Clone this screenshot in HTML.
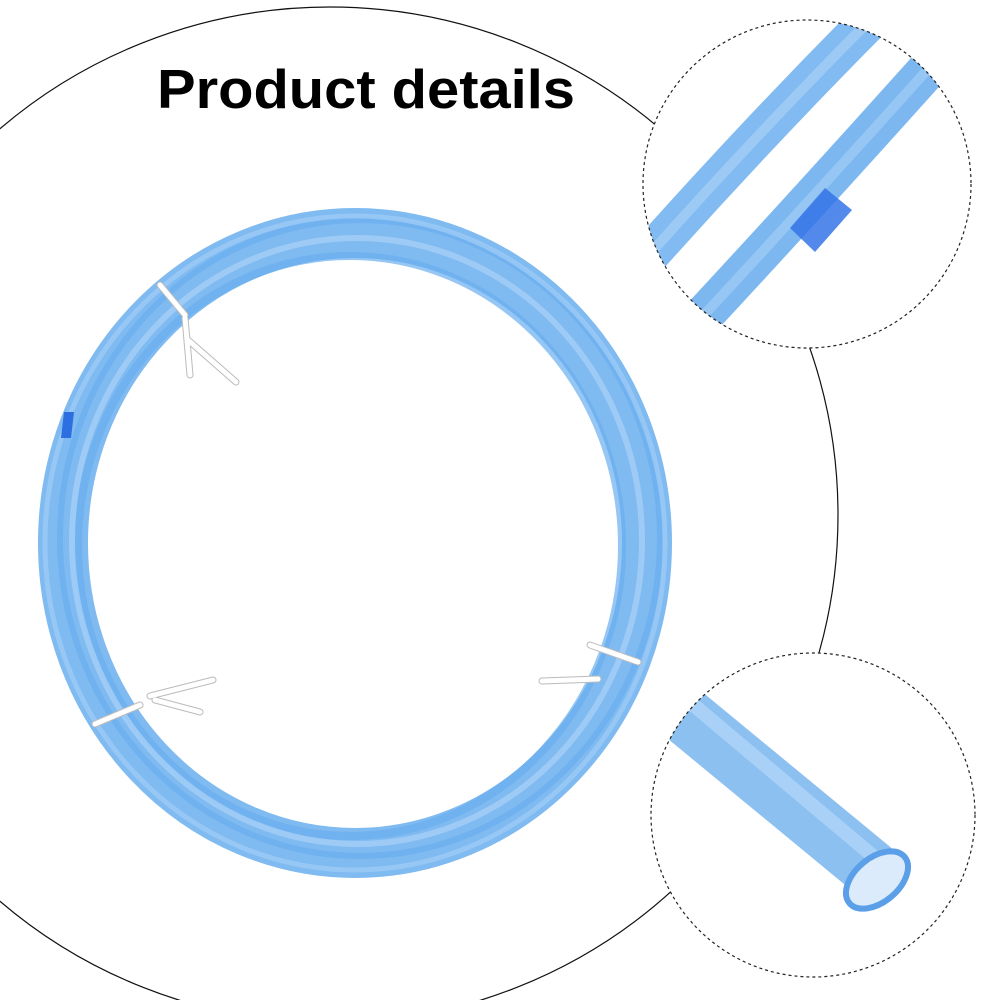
<!DOCTYPE html>
<html><head><meta charset="utf-8"><style>
html,body{margin:0;padding:0;background:#fff;width:1000px;height:1000px;overflow:hidden}
</style></head><body>
<svg width="1000" height="1000" viewBox="0 0 1000 1000" xmlns="http://www.w3.org/2000/svg">
<defs>
<clipPath id="c1"><circle cx="807" cy="184" r="164"/></clipPath>
<clipPath id="c2"><circle cx="813" cy="815" r="162"/></clipPath>
</defs>
<rect width="1000" height="1000" fill="#fff"/>
<circle cx="330" cy="515" r="508" fill="none" stroke="#111" stroke-width="1.2"/>
<text x="366" y="108" text-anchor="middle" font-family="Liberation Sans, sans-serif" font-weight="bold" font-size="55" fill="#000" textLength="418" lengthAdjust="spacingAndGlyphs">Product details</text>

<!-- coil -->
<g fill="none">
<ellipse cx="355" cy="543" rx="292" ry="310" stroke="#7fbaf1" stroke-width="50"/>
<ellipse cx="350" cy="546" rx="272" ry="290" stroke="#6aaeee" stroke-width="8" opacity="0.7"/>
<ellipse cx="357" cy="541" rx="285" ry="303" stroke="#a6d0f7" stroke-width="6" opacity="0.8"/>
<ellipse cx="360" cy="538" rx="300" ry="318" stroke="#6aaeee" stroke-width="6" opacity="0.7"/>
<ellipse cx="355" cy="543" rx="310" ry="327" stroke="#9ccbf6" stroke-width="5" opacity="0.8"/>
<path d="M64 412 L74 412 L71 438 L61 438Z" fill="#2d6fe0" stroke="none"/>
<g stroke="#bbb" stroke-width="7" stroke-linecap="round">
<path d="M160 285 L185 315 M185 318 L190 375 M188 340 L236 382"/>
<path d="M95 724 L140 705 M150 696 L213 680 M155 700 L200 712"/>
<path d="M590 645 L638 662 M542 681 L598 679"/>
</g>
<g stroke="#fff" stroke-width="5" stroke-linecap="round">
<path d="M160 285 L185 315 M185 318 L190 375 M188 340 L236 382"/>
<path d="M95 724 L140 705 M150 696 L213 680 M155 700 L200 712"/>
<path d="M590 645 L638 662 M542 681 L598 679"/>
</g>
</g>

<!-- top inset -->
<circle cx="807" cy="184" r="164" fill="#fff"/>
<g clip-path="url(#c1)">
<path d="M640 265 Q760 130 885 5" fill="none" stroke="#82bbf1" stroke-width="40"/>
<path d="M640 265 Q760 130 885 5" fill="none" stroke="#9ccaf5" stroke-width="10"/>
<path d="M690 330 Q820 190 945 50" fill="none" stroke="#7cb7ef" stroke-width="40"/>
<path d="M690 330 Q820 190 945 50" fill="none" stroke="#96c6f4" stroke-width="10"/>
<path d="M790 228 L825 188 L852 210 L815 252Z" fill="#3574e8" opacity="0.85"/>
</g>
<circle cx="807" cy="184" r="164" fill="none" stroke="#222" stroke-width="1.2" stroke-dasharray="3,3"/>

<!-- bottom inset -->
<circle cx="813" cy="815" r="162" fill="#fff"/>
<g clip-path="url(#c2)">
<path d="M630 670 L875 872" stroke="#8cc0f0" stroke-width="58" stroke-linecap="butt"/>
<path d="M640 660 L880 862" stroke="#a9d1f7" stroke-width="14"/>
<ellipse cx="877" cy="880" rx="36" ry="22" transform="rotate(-40 877 880)" fill="#dcebfb" stroke="#5a9fe8" stroke-width="6"/>
</g>
<circle cx="813" cy="815" r="162" fill="none" stroke="#222" stroke-width="1.2" stroke-dasharray="3,3"/>
</svg>
</body></html>
